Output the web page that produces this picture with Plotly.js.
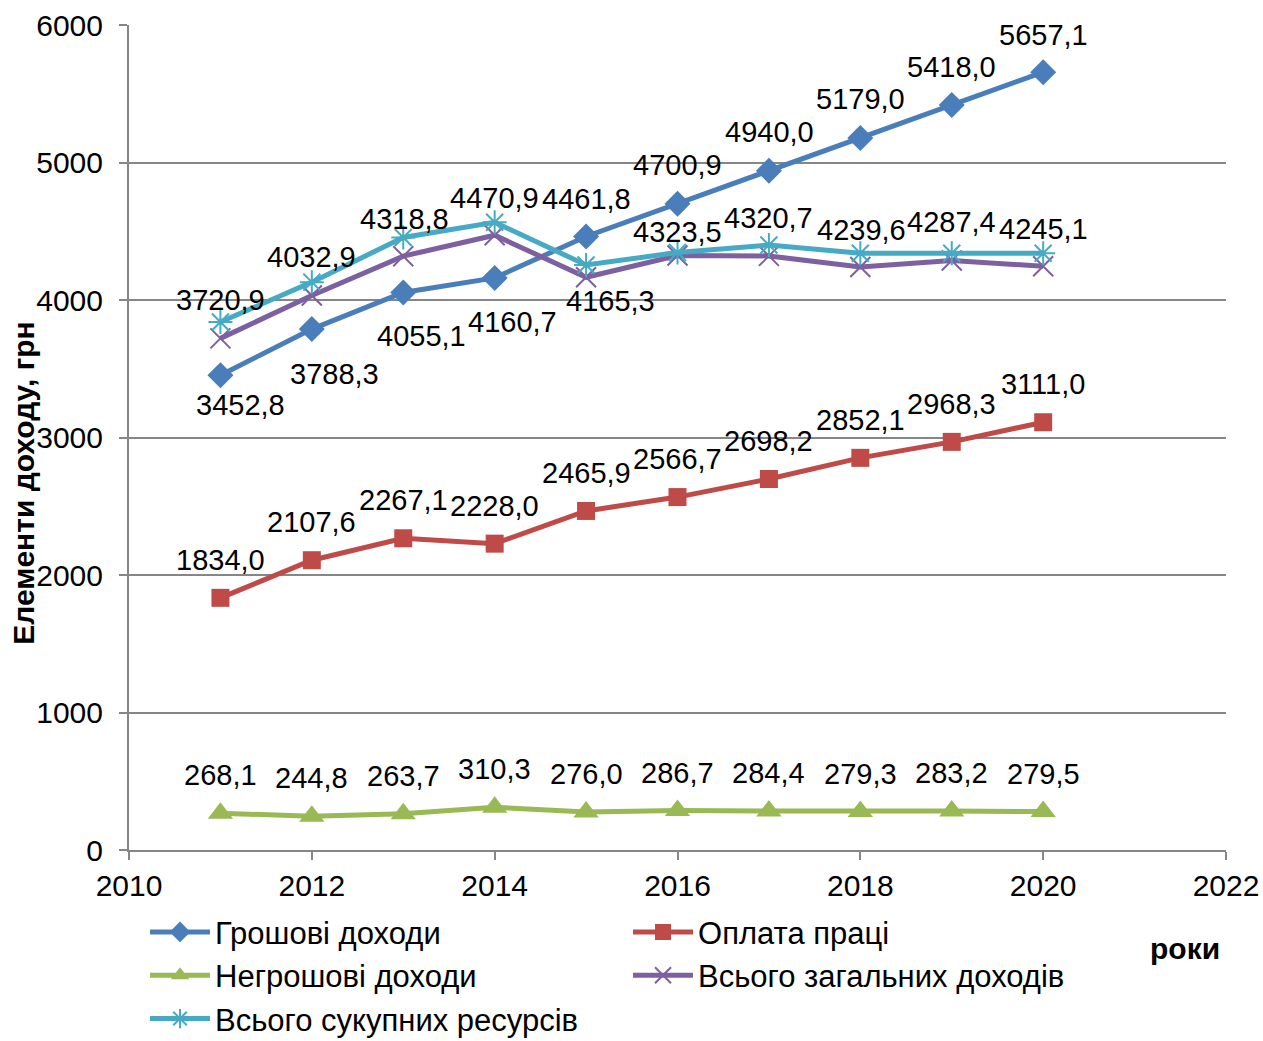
<!DOCTYPE html>
<html>
<head>
<meta charset="utf-8">
<script src="https://cdn.plot.ly/plotly-3.0.1.min.js"></script>
<style>
html,body{margin:0;padding:0;background:#fff;}
#chart{width:1263px;height:1041px;}
</style>
</head>
<body>
<div id="chart"></div>
<script>
// ---- data ----
const years = [2011, 2012, 2013, 2014, 2015, 2016, 2017, 2018, 2019, 2020];
const seriesNames = ["Грошові доходи", "Оплата праці", "Негрошові доходи", "Всього загальних доходів", "Всього сукупних ресурсів"];
const moneyIncome   = [3452.8, 3788.3, 4055.1, 4160.7, 4461.8, 4700.9, 4940.0, 5179.0, 5418.0, 5657.1];
const wages         = [1834.0, 2107.6, 2267.1, 2228.0, 2465.9, 2566.7, 2698.2, 2852.1, 2968.3, 3111.0];
const nonMoney      = [268.1, 244.8, 263.7, 310.3, 276.0, 286.7, 284.4, 279.3, 283.2, 279.5];
const totalIncome   = [3720.9, 4032.9, 4318.8, 4470.9, 4165.3, 4323.5, 4320.7, 4239.6, 4287.4, 4245.1];
const totalResources= [3840, 4130, 4455, 4565, 4255, 4345, 4400, 4340, 4340, 4340];
const yTicks = [0, 1000, 2000, 3000, 4000, 5000, 6000];
const xTicks = [2010, 2012, 2014, 2016, 2018, 2020, 2022];
const yTitle = "Елементи доходу, грн";
const xTitle = "роки";

// ---- styles ----
const FONT = "Liberation Sans, Arial, sans-serif";
const FS = 29;
const colors = ["#4A7EBB", "#BE4B48", "#98B954", "#7D60A0", "#46AAC5"];
const symbols = ["diamond", "square", "triangle-up", "x-thin-open", "asterisk-open"];
const sizes = [20, 18, 22, 20, 20];
const allSeries = [moneyIncome, wages, nonMoney, totalIncome, totalResources];

// label offsets in pixels [xshift, yshift] (positive yshift = up)
const offMoney = [[20,-30],[23,-45],[18,-44],[18,-44],[0,38],[0,39],[1,39],[0,39],[0,38],[0,37]];
const offWages = years.map(() => [0, 38]);
const offNonMoney = years.map(() => [0, 38]);
const offTotal = [[0,38],[0,38],[1,37],[0,37],[24,-24],[0,24],[0,38],[1,37],[0,38],[0,37]];
const labelled = [[moneyIncome, offMoney], [wages, offWages], [nonMoney, offNonMoney], [totalIncome, offTotal]];

const fmt = v => v.toFixed(1).replace(".", ",");

const traces = allSeries.map((vals, i) => ({
  x: years, y: vals, name: seriesNames[i], type: "scatter", mode: "lines+markers",
  line: {color: colors[i], width: 5},
  marker: {symbol: symbols[i], size: sizes[i], color: colors[i],
           line: {color: colors[i], width: (i >= 3 ? 2 : 0)}}
}));

const annotations = [];
labelled.forEach(([vals, offs]) => {
  vals.forEach((v, k) => {
    annotations.push({x: years[k], y: v, xref: "x", yref: "y", text: fmt(v), showarrow: false,
      xshift: offs[k][0], yshift: offs[k][1], xanchor: "center", yanchor: "middle",
      font: {family: FONT, size: FS, color: "#000"}});
  });
});
annotations.push({xref: "paper", yref: "paper", x: -0.0957, y: 0.444, text: "<b>" + yTitle + "</b>",
  textangle: -90, showarrow: false, xanchor: "center", yanchor: "middle",
  font: {family: FONT, size: 30, color: "#000"}});
annotations.push({xref: "paper", yref: "paper", x: 0.9626, y: -0.1188, text: "<b>" + xTitle + "</b>",
  showarrow: false, xanchor: "center", yanchor: "middle",
  font: {family: FONT, size: 30, color: "#000"}});

const layout = {
  width: 1263, height: 1041,
  margin: {l: 129, r: 37, t: 25, b: 191, autoexpand: false},
  paper_bgcolor: "#fff", plot_bgcolor: "#fff",
  font: {family: FONT, size: FS, color: "#000"},
  showlegend: true,
  legend: {orientation: "h", x: 0.0146, y: -0.067, xanchor: "left", yanchor: "top",
    entrywidth: 408, entrywidthmode: "pixels", font: {family: FONT, size: 31, color: "#000"},
    bgcolor: "rgba(0,0,0,0)", itemwidth: 60, traceorder: "normal"},
  xaxis: {range: [2010, 2022], tickvals: xTicks, ticktext: xTicks.map(String),
    showgrid: false, zeroline: false, showline: true, linecolor: "#868686", linewidth: 2,
    ticks: "outside", ticklen: 8, tickwidth: 2, tickcolor: "#868686",
    tickfont: {family: FONT, size: 30, color: "#000"}},
  yaxis: {range: [0, 6000], tickvals: yTicks, ticktext: yTicks.map(String),
    showgrid: true, gridcolor: "#868686", gridwidth: 2, zeroline: false,
    showline: true, linecolor: "#868686", linewidth: 2,
    ticks: "outside", ticklen: 8, tickwidth: 2, tickcolor: "#868686",
    ticklabelstandoff: 10,
    tickfont: {family: FONT, size: 30, color: "#000"}},
  annotations: annotations
};

Plotly.newPlot("chart", traces, layout, {displayModeBar: false, staticPlot: true});
</script>
</body>
</html>
